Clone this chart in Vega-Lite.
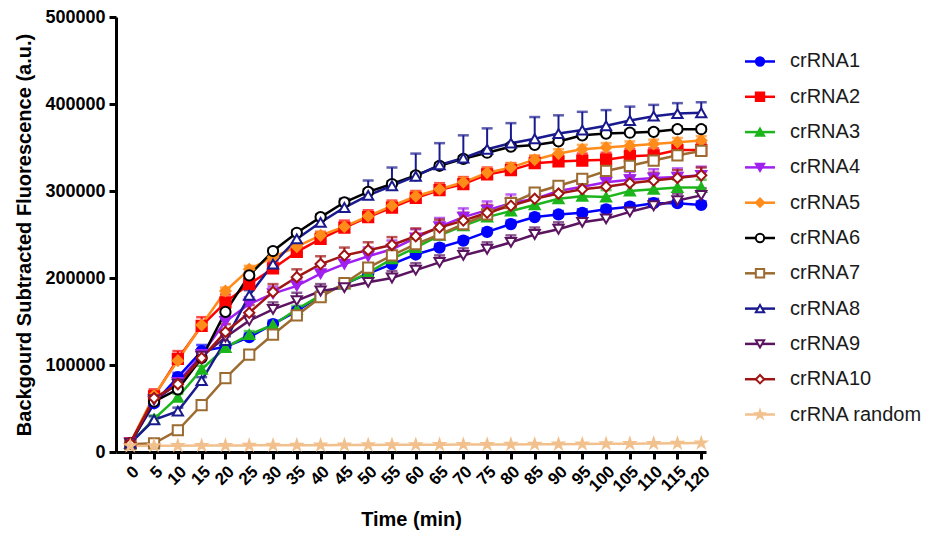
{
"$schema": "https://vega.github.io/schema/vega-lite/v6.json",
"background": "white",
"padding": {"left": 14, "top": 8, "right": 0, "bottom": 0},
"bounds": "flush",
"spacing": 39,
"config": {
  "view": {"stroke": null},
  "font": "Liberation Sans",
  "axis": {"grid": false, "domainColor": "black", "domainWidth": 3, "tickColor": "black", "tickWidth": 3, "tickSize": 7, "labelFontSize": 18, "labelFontWeight": "bold", "labelColor": "black", "labelPadding": 4, "titleFontSize": 20, "titleFontWeight": "bold", "titleColor": "black", "titlePadding": 10}
},
"resolve": {"scale": {"x": "independent", "y": "independent", "size": "independent"}},
"datasets": {
"pts": [
{"s":"crRNA1","t":0,"v":10000,"h":10000},{"s":"crRNA1","t":5,"v":56000,"h":60000},{"s":"crRNA1","t":10,"v":86000,"h":91000},{"s":"crRNA1","t":15,"v":116000,"h":123000},{"s":"crRNA1","t":20,"v":121000,"h":126000},{"s":"crRNA1","t":25,"v":132000,"h":136000},{"s":"crRNA1","t":30,"v":147000,"h":151000},{"s":"crRNA1","t":35,"v":162000,"h":166000},{"s":"crRNA1","t":40,"v":180000,"h":184000},{"s":"crRNA1","t":45,"v":193000,"h":197000},{"s":"crRNA1","t":50,"v":205000,"h":209000},{"s":"crRNA1","t":55,"v":216000,"h":220000},{"s":"crRNA1","t":60,"v":227000,"h":231000},{"s":"crRNA1","t":65,"v":235000,"h":239000},{"s":"crRNA1","t":70,"v":243000,"h":247000},{"s":"crRNA1","t":75,"v":253000,"h":257000},{"s":"crRNA1","t":80,"v":262000,"h":266000},{"s":"crRNA1","t":85,"v":270000,"h":274000},{"s":"crRNA1","t":90,"v":273000,"h":277000},{"s":"crRNA1","t":95,"v":275000,"h":279000},{"s":"crRNA1","t":100,"v":279000,"h":283000},{"s":"crRNA1","t":105,"v":282000,"h":286000},{"s":"crRNA1","t":110,"v":286000,"h":290000},{"s":"crRNA1","t":115,"v":286000,"h":290000},{"s":"crRNA1","t":120,"v":284000,"h":288000},
{"s":"crRNA2","t":0,"v":10000,"h":10000},{"s":"crRNA2","t":5,"v":64000,"h":72000},{"s":"crRNA2","t":10,"v":107000,"h":116000},{"s":"crRNA2","t":15,"v":145000,"h":155000},{"s":"crRNA2","t":20,"v":172000,"h":181000},{"s":"crRNA2","t":25,"v":193000,"h":201000},{"s":"crRNA2","t":30,"v":211000,"h":219000},{"s":"crRNA2","t":35,"v":230000,"h":238000},{"s":"crRNA2","t":40,"v":245000,"h":253000},{"s":"crRNA2","t":45,"v":258000,"h":266000},{"s":"crRNA2","t":50,"v":270000,"h":278000},{"s":"crRNA2","t":55,"v":281000,"h":289000},{"s":"crRNA2","t":60,"v":292000,"h":300000},{"s":"crRNA2","t":65,"v":301000,"h":309000},{"s":"crRNA2","t":70,"v":308000,"h":316000},{"s":"crRNA2","t":75,"v":319000,"h":327000},{"s":"crRNA2","t":80,"v":324000,"h":332000},{"s":"crRNA2","t":85,"v":332000,"h":340000},{"s":"crRNA2","t":90,"v":334000,"h":342000},{"s":"crRNA2","t":95,"v":335000,"h":343000},{"s":"crRNA2","t":100,"v":336000,"h":344000},{"s":"crRNA2","t":105,"v":340000,"h":348000},{"s":"crRNA2","t":110,"v":341000,"h":349000},{"s":"crRNA2","t":115,"v":347000,"h":355000},{"s":"crRNA2","t":120,"v":347000,"h":355000},
{"s":"crRNA3","t":0,"v":10000,"h":10000},{"s":"crRNA3","t":5,"v":38000,"h":42000},{"s":"crRNA3","t":10,"v":63000,"h":67000},{"s":"crRNA3","t":15,"v":95000,"h":99000},{"s":"crRNA3","t":20,"v":120000,"h":124000},{"s":"crRNA3","t":25,"v":135000,"h":139000},{"s":"crRNA3","t":30,"v":146000,"h":150000},{"s":"crRNA3","t":35,"v":164000,"h":168000},{"s":"crRNA3","t":40,"v":180000,"h":184000},{"s":"crRNA3","t":45,"v":193000,"h":197000},{"s":"crRNA3","t":50,"v":206000,"h":210000},{"s":"crRNA3","t":55,"v":222000,"h":226000},{"s":"crRNA3","t":60,"v":235000,"h":240000},{"s":"crRNA3","t":65,"v":249000,"h":255000},{"s":"crRNA3","t":70,"v":260000,"h":267000},{"s":"crRNA3","t":75,"v":270000,"h":277000},{"s":"crRNA3","t":80,"v":277000,"h":284000},{"s":"crRNA3","t":85,"v":284000,"h":291000},{"s":"crRNA3","t":90,"v":291000,"h":298000},{"s":"crRNA3","t":95,"v":294000,"h":302000},{"s":"crRNA3","t":100,"v":293000,"h":301000},{"s":"crRNA3","t":105,"v":300000,"h":308000},{"s":"crRNA3","t":110,"v":302000,"h":311000},{"s":"crRNA3","t":115,"v":304000,"h":313000},{"s":"crRNA3","t":120,"v":304000,"h":313000},
{"s":"crRNA4","t":0,"v":10000,"h":10000},{"s":"crRNA4","t":5,"v":58000,"h":62000},{"s":"crRNA4","t":10,"v":80000,"h":84000},{"s":"crRNA4","t":15,"v":112000,"h":116000},{"s":"crRNA4","t":20,"v":150000,"h":158000},{"s":"crRNA4","t":25,"v":170000,"h":178000},{"s":"crRNA4","t":30,"v":182000,"h":190000},{"s":"crRNA4","t":35,"v":191000,"h":199000},{"s":"crRNA4","t":40,"v":205000,"h":214000},{"s":"crRNA4","t":45,"v":216000,"h":226000},{"s":"crRNA4","t":50,"v":225000,"h":235000},{"s":"crRNA4","t":55,"v":233000,"h":243000},{"s":"crRNA4","t":60,"v":246000,"h":256000},{"s":"crRNA4","t":65,"v":259000,"h":269000},{"s":"crRNA4","t":70,"v":270000,"h":280000},{"s":"crRNA4","t":75,"v":278000,"h":288000},{"s":"crRNA4","t":80,"v":286000,"h":296000},{"s":"crRNA4","t":85,"v":291000,"h":301000},{"s":"crRNA4","t":90,"v":300000,"h":310000},{"s":"crRNA4","t":95,"v":305000,"h":315000},{"s":"crRNA4","t":100,"v":310000,"h":320000},{"s":"crRNA4","t":105,"v":313000,"h":322000},{"s":"crRNA4","t":110,"v":315000,"h":325000},{"s":"crRNA4","t":115,"v":316000,"h":326000},{"s":"crRNA4","t":120,"v":318000,"h":328000},
{"s":"crRNA5","t":0,"v":10000,"h":10000},{"s":"crRNA5","t":5,"v":65000,"h":69000},{"s":"crRNA5","t":10,"v":105000,"h":109000},{"s":"crRNA5","t":15,"v":146000,"h":150000},{"s":"crRNA5","t":20,"v":185000,"h":189000},{"s":"crRNA5","t":25,"v":210000,"h":214000},{"s":"crRNA5","t":30,"v":224000,"h":228000},{"s":"crRNA5","t":35,"v":236000,"h":240000},{"s":"crRNA5","t":40,"v":249000,"h":253000},{"s":"crRNA5","t":45,"v":259000,"h":263000},{"s":"crRNA5","t":50,"v":271000,"h":275000},{"s":"crRNA5","t":55,"v":283000,"h":287000},{"s":"crRNA5","t":60,"v":294000,"h":299000},{"s":"crRNA5","t":65,"v":302000,"h":307000},{"s":"crRNA5","t":70,"v":310000,"h":315000},{"s":"crRNA5","t":75,"v":321000,"h":326000},{"s":"crRNA5","t":80,"v":327000,"h":332000},{"s":"crRNA5","t":85,"v":336000,"h":341000},{"s":"crRNA5","t":90,"v":343000,"h":348000},{"s":"crRNA5","t":95,"v":348000,"h":353000},{"s":"crRNA5","t":100,"v":350000,"h":355000},{"s":"crRNA5","t":105,"v":352000,"h":357000},{"s":"crRNA5","t":110,"v":354000,"h":359000},{"s":"crRNA5","t":115,"v":356000,"h":361000},{"s":"crRNA5","t":120,"v":358000,"h":363000},
{"s":"crRNA6","t":0,"v":10000,"h":10000},{"s":"crRNA6","t":5,"v":58000,"h":61000},{"s":"crRNA6","t":10,"v":72000,"h":75000},{"s":"crRNA6","t":15,"v":108000,"h":111000},{"s":"crRNA6","t":20,"v":161000,"h":164000},{"s":"crRNA6","t":25,"v":203000,"h":206000},{"s":"crRNA6","t":30,"v":231000,"h":234000},{"s":"crRNA6","t":35,"v":252000,"h":255000},{"s":"crRNA6","t":40,"v":270000,"h":273000},{"s":"crRNA6","t":45,"v":287000,"h":290000},{"s":"crRNA6","t":50,"v":299000,"h":302000},{"s":"crRNA6","t":55,"v":308000,"h":311000},{"s":"crRNA6","t":60,"v":318000,"h":321000},{"s":"crRNA6","t":65,"v":329000,"h":332000},{"s":"crRNA6","t":70,"v":337000,"h":340000},{"s":"crRNA6","t":75,"v":344000,"h":347000},{"s":"crRNA6","t":80,"v":351000,"h":354000},{"s":"crRNA6","t":85,"v":353000,"h":356000},{"s":"crRNA6","t":90,"v":357000,"h":360000},{"s":"crRNA6","t":95,"v":364000,"h":367000},{"s":"crRNA6","t":100,"v":366000,"h":369000},{"s":"crRNA6","t":105,"v":367000,"h":370000},{"s":"crRNA6","t":110,"v":368000,"h":371000},{"s":"crRNA6","t":115,"v":371000,"h":374000},{"s":"crRNA6","t":120,"v":371000,"h":374000},
{"s":"crRNA7","t":0,"v":9000,"h":9000},{"s":"crRNA7","t":5,"v":10000,"h":12000},{"s":"crRNA7","t":10,"v":25000,"h":28000},{"s":"crRNA7","t":15,"v":54000,"h":57000},{"s":"crRNA7","t":20,"v":85000,"h":88000},{"s":"crRNA7","t":25,"v":112000,"h":115000},{"s":"crRNA7","t":30,"v":135000,"h":138000},{"s":"crRNA7","t":35,"v":157000,"h":160000},{"s":"crRNA7","t":40,"v":178000,"h":181000},{"s":"crRNA7","t":45,"v":194000,"h":197000},{"s":"crRNA7","t":50,"v":212000,"h":215000},{"s":"crRNA7","t":55,"v":226000,"h":229000},{"s":"crRNA7","t":60,"v":239000,"h":242000},{"s":"crRNA7","t":65,"v":250000,"h":253000},{"s":"crRNA7","t":70,"v":262000,"h":265000},{"s":"crRNA7","t":75,"v":273000,"h":276000},{"s":"crRNA7","t":80,"v":286000,"h":289000},{"s":"crRNA7","t":85,"v":298000,"h":301000},{"s":"crRNA7","t":90,"v":306000,"h":309000},{"s":"crRNA7","t":95,"v":314000,"h":317000},{"s":"crRNA7","t":100,"v":323000,"h":326000},{"s":"crRNA7","t":105,"v":329000,"h":332000},{"s":"crRNA7","t":110,"v":335000,"h":338000},{"s":"crRNA7","t":115,"v":341000,"h":344000},{"s":"crRNA7","t":120,"v":346000,"h":349000},
{"s":"crRNA8","t":0,"v":10000,"h":10000},{"s":"crRNA8","t":5,"v":37000,"h":41000},{"s":"crRNA8","t":10,"v":47000,"h":51000},{"s":"crRNA8","t":15,"v":82000,"h":86000},{"s":"crRNA8","t":20,"v":128000,"h":133000},{"s":"crRNA8","t":25,"v":180000,"h":186000},{"s":"crRNA8","t":30,"v":216000,"h":222000},{"s":"crRNA8","t":35,"v":245000,"h":250000},{"s":"crRNA8","t":40,"v":264000,"h":272000},{"s":"crRNA8","t":45,"v":281000,"h":291000},{"s":"crRNA8","t":50,"v":295000,"h":312000},{"s":"crRNA8","t":55,"v":306000,"h":327000},{"s":"crRNA8","t":60,"v":317000,"h":343000},{"s":"crRNA8","t":65,"v":330000,"h":355000},{"s":"crRNA8","t":70,"v":338000,"h":364000},{"s":"crRNA8","t":75,"v":348000,"h":372000},{"s":"crRNA8","t":80,"v":355000,"h":378000},{"s":"crRNA8","t":85,"v":360000,"h":385000},{"s":"crRNA8","t":90,"v":366000,"h":387000},{"s":"crRNA8","t":95,"v":370000,"h":391000},{"s":"crRNA8","t":100,"v":375000,"h":393000},{"s":"crRNA8","t":105,"v":381000,"h":397000},{"s":"crRNA8","t":110,"v":386000,"h":399000},{"s":"crRNA8","t":115,"v":389000,"h":401000},{"s":"crRNA8","t":120,"v":390000,"h":402000},
{"s":"crRNA9","t":0,"v":10000,"h":10000},{"s":"crRNA9","t":5,"v":60000,"h":64000},{"s":"crRNA9","t":10,"v":78000,"h":82000},{"s":"crRNA9","t":15,"v":110000,"h":118000},{"s":"crRNA9","t":20,"v":132000,"h":140000},{"s":"crRNA9","t":25,"v":151000,"h":159000},{"s":"crRNA9","t":30,"v":164000,"h":172000},{"s":"crRNA9","t":35,"v":174000,"h":183000},{"s":"crRNA9","t":40,"v":185000,"h":193000},{"s":"crRNA9","t":45,"v":189000,"h":197000},{"s":"crRNA9","t":50,"v":195000,"h":203000},{"s":"crRNA9","t":55,"v":200000,"h":208000},{"s":"crRNA9","t":60,"v":209000,"h":217000},{"s":"crRNA9","t":65,"v":218000,"h":226000},{"s":"crRNA9","t":70,"v":226000,"h":234000},{"s":"crRNA9","t":75,"v":233000,"h":241000},{"s":"crRNA9","t":80,"v":241000,"h":249000},{"s":"crRNA9","t":85,"v":250000,"h":258000},{"s":"crRNA9","t":90,"v":256000,"h":264000},{"s":"crRNA9","t":95,"v":264000,"h":272000},{"s":"crRNA9","t":100,"v":268000,"h":276000},{"s":"crRNA9","t":105,"v":276000,"h":284000},{"s":"crRNA9","t":110,"v":283000,"h":291000},{"s":"crRNA9","t":115,"v":289000,"h":297000},{"s":"crRNA9","t":120,"v":295000,"h":303000},
{"s":"crRNA10","t":0,"v":10000,"h":10000},{"s":"crRNA10","t":5,"v":62000,"h":70000},{"s":"crRNA10","t":10,"v":78000,"h":86000},{"s":"crRNA10","t":15,"v":108000,"h":117000},{"s":"crRNA10","t":20,"v":138000,"h":147000},{"s":"crRNA10","t":25,"v":160000,"h":169000},{"s":"crRNA10","t":30,"v":184000,"h":193000},{"s":"crRNA10","t":35,"v":201000,"h":210000},{"s":"crRNA10","t":40,"v":216000,"h":225000},{"s":"crRNA10","t":45,"v":226000,"h":235000},{"s":"crRNA10","t":50,"v":232000,"h":241000},{"s":"crRNA10","t":55,"v":238000,"h":247000},{"s":"crRNA10","t":60,"v":248000,"h":257000},{"s":"crRNA10","t":65,"v":258000,"h":267000},{"s":"crRNA10","t":70,"v":266000,"h":275000},{"s":"crRNA10","t":75,"v":275000,"h":284000},{"s":"crRNA10","t":80,"v":283000,"h":292000},{"s":"crRNA10","t":85,"v":291000,"h":300000},{"s":"crRNA10","t":90,"v":297000,"h":306000},{"s":"crRNA10","t":95,"v":302000,"h":311000},{"s":"crRNA10","t":100,"v":305000,"h":314000},{"s":"crRNA10","t":105,"v":309000,"h":318000},{"s":"crRNA10","t":110,"v":312000,"h":321000},{"s":"crRNA10","t":115,"v":315000,"h":324000},{"s":"crRNA10","t":120,"v":318000,"h":327000},
{"s":"crRNA random","t":0,"v":7000,"h":7000},{"s":"crRNA random","t":5,"v":7200,"h":7200},{"s":"crRNA random","t":10,"v":7300,"h":7300},{"s":"crRNA random","t":15,"v":7400,"h":7400},{"s":"crRNA random","t":20,"v":7500,"h":7500},{"s":"crRNA random","t":25,"v":7600,"h":7600},{"s":"crRNA random","t":30,"v":7700,"h":7700},{"s":"crRNA random","t":35,"v":7800,"h":7800},{"s":"crRNA random","t":40,"v":7900,"h":7900},{"s":"crRNA random","t":45,"v":8000,"h":8000},{"s":"crRNA random","t":50,"v":8100,"h":8100},{"s":"crRNA random","t":55,"v":8200,"h":8200},{"s":"crRNA random","t":60,"v":8300,"h":8300},{"s":"crRNA random","t":65,"v":8400,"h":8400},{"s":"crRNA random","t":70,"v":8500,"h":8500},{"s":"crRNA random","t":75,"v":8600,"h":8600},{"s":"crRNA random","t":80,"v":8700,"h":8700},{"s":"crRNA random","t":85,"v":8800,"h":8800},{"s":"crRNA random","t":90,"v":9000,"h":9000},{"s":"crRNA random","t":95,"v":9200,"h":9200},{"s":"crRNA random","t":100,"v":9400,"h":9400},{"s":"crRNA random","t":105,"v":9600,"h":9600},{"s":"crRNA random","t":110,"v":9800,"h":9800},{"s":"crRNA random","t":115,"v":10000,"h":10000},{"s":"crRNA random","t":120,"v":10300,"h":10300}
],
"leg": [{"s":"crRNA1"},{"s":"crRNA2"},{"s":"crRNA3"},{"s":"crRNA4"},{"s":"crRNA5"},{"s":"crRNA6"},{"s":"crRNA7"},{"s":"crRNA8"},{"s":"crRNA9"},{"s":"crRNA10"},{"s":"crRNA random"}]
},
"hconcat": [
{
  "width": 590,
  "height": 435,
  "data": {"name": "pts"},
  "encoding": {
    "x": {"field": "t", "type": "quantitative", "scale": {"domain": [-3, 121], "nice": false, "zero": false},
      "axis": {"title": "Time (min)", "values": [0,5,10,15,20,25,30,35,40,45,50,55,60,65,70,75,80,85,90,95,100,105,110,115,120], "labelAngle": -45, "labelOverlap": false, "labelBound": false, "labelFontSize": 17, "titlePadding": 15}}
  },
  "layer": [
    {
      "transform": [{"filter": "datum.h > datum.v"}],
      "mark": {"type": "rule", "strokeWidth": 2},
      "encoding": {
        "y": {"field": "v", "type": "quantitative", "scale": {"domain": [0, 500000], "nice": false},
          "axis": {"title": "Backgourd Subtracted Fluorescence (a.u.)", "values": [0,100000,200000,300000,400000,500000], "format": "d"}},
        "y2": {"field": "h"},
        "color": {"field": "s", "type": "nominal", "legend": null,
          "scale": {"domain": ["crRNA1","crRNA2","crRNA3","crRNA4","crRNA5","crRNA6","crRNA7","crRNA8","crRNA9","crRNA10","crRNA random"],
                    "range": ["#0000FF","#FF0000","#1CB51C","#A020F0","#FF8C1A","#000000","#9C6B30","#1A1A8F","#5A1460","#A01414","#F2C08C"]}}
      }
    },
    {
      "transform": [{"filter": "datum.h > datum.v"}],
      "mark": {"type": "tick", "orient": "horizontal", "size": 11, "thickness": 2.5},
      "encoding": {
        "y": {"field": "h", "type": "quantitative",
          "axis": {"title": "Backgourd Subtracted Fluorescence (a.u.)", "values": [0,100000,200000,300000,400000,500000], "format": "d"}},
        "color": {"field": "s", "type": "nominal", "legend": null}
      }
    },
    {
      "mark": {"type": "line", "strokeWidth": 2.5},
      "encoding": {
        "y": {"field": "v", "type": "quantitative",
          "axis": {"title": "Backgourd Subtracted Fluorescence (a.u.)", "values": [0,100000,200000,300000,400000,500000], "format": "d"}},
        "color": {"field": "s", "type": "nominal", "legend": null}
      }
    },
    {
      "mark": {"type": "point", "filled": true, "strokeWidth": 2, "opacity": 1},
      "encoding": {
        "y": {"field": "v", "type": "quantitative",
          "axis": {"title": "Backgourd Subtracted Fluorescence (a.u.)", "values": [0,100000,200000,300000,400000,500000], "format": "d"}},
        "size": {"field": "s", "type": "nominal", "legend": null,
          "scale": {"domain": ["crRNA1","crRNA2","crRNA3","crRNA4","crRNA5","crRNA6","crRNA7","crRNA8","crRNA9","crRNA10","crRNA random"],
                    "range": [105,105,105,105,70,100,100,100,100,90,75]}},
        "shape": {"field": "s", "type": "nominal", "legend": null,
          "scale": {"domain": ["crRNA1","crRNA2","crRNA3","crRNA4","crRNA5","crRNA6","crRNA7","crRNA8","crRNA9","crRNA10","crRNA random"],
                    "range": ["circle","square","triangle-up","triangle-down","diamond","circle","square","triangle-up","triangle-down","diamond","M0,-1L0.2245,-0.309L0.951,-0.309L0.363,0.118L0.588,0.809L0,0.382L-0.588,0.809L-0.363,0.118L-0.951,-0.309L-0.2245,-0.309Z"]}},
        "stroke": {"field": "s", "type": "nominal", "legend": null,
          "scale": {"domain": ["crRNA1","crRNA2","crRNA3","crRNA4","crRNA5","crRNA6","crRNA7","crRNA8","crRNA9","crRNA10","crRNA random"],
                    "range": ["#0000FF","#FF0000","#1CB51C","#A020F0","#FF8C1A","#000000","#9C6B30","#1A1A8F","#5A1460","#A01414","#F2C08C"]}},
        "fill": {"field": "s", "type": "nominal", "legend": null,
          "scale": {"domain": ["crRNA1","crRNA2","crRNA3","crRNA4","crRNA5","crRNA6","crRNA7","crRNA8","crRNA9","crRNA10","crRNA random"],
                    "range": ["#0000FF","#FF0000","#1CB51C","#A020F0","#FF8C1A","#FFFFFF","#FFFFFF","#FFFFFF","#FFFFFF","#FFFFFF","#F2C08C"]}}
      }
    }
  ]
},
{
  "width": 150,
  "height": 442,
  "data": {"name": "leg"},
  "encoding": {
    "y": {"field": "s", "type": "nominal", "axis": null, "bandPosition": 0.5,
      "scale": {"type": "band", "paddingInner": 0, "paddingOuter": 0.76, "domain": ["crRNA1","crRNA2","crRNA3","crRNA4","crRNA5","crRNA6","crRNA7","crRNA8","crRNA9","crRNA10","crRNA random"]}}
  },
  "layer": [
    {
      "mark": {"type": "rule", "strokeWidth": 2.5},
      "encoding": {
        "x": {"datum": 0, "type": "quantitative", "scale": {"domain": [0, 10]}, "axis": null},
        "x2": {"datum": 2},
        "color": {"field": "s", "type": "nominal", "legend": null}
      }
    },
    {
      "mark": {"type": "point", "filled": true, "strokeWidth": 2, "opacity": 1},
      "encoding": {
        "x": {"datum": 1, "type": "quantitative"},
        "size": {"field": "s", "type": "nominal", "legend": null,
          "scale": {"domain": ["crRNA1","crRNA2","crRNA3","crRNA4","crRNA5","crRNA6","crRNA7","crRNA8","crRNA9","crRNA10","crRNA random"],
                    "range": [70,70,70,70,45,60,60,60,60,60,50]}},
        "shape": {"field": "s", "type": "nominal", "legend": null},
        "stroke": {"field": "s", "type": "nominal", "legend": null},
        "fill": {"field": "s", "type": "nominal", "legend": null}
      }
    },
    {
      "mark": {"type": "text", "align": "left", "baseline": "middle", "fontSize": 20, "color": "#1a1a1a", "dx": 0},
      "encoding": {
        "x": {"datum": 3, "type": "quantitative"},
        "text": {"field": "s"}
      }
    }
  ]
}
]
}
